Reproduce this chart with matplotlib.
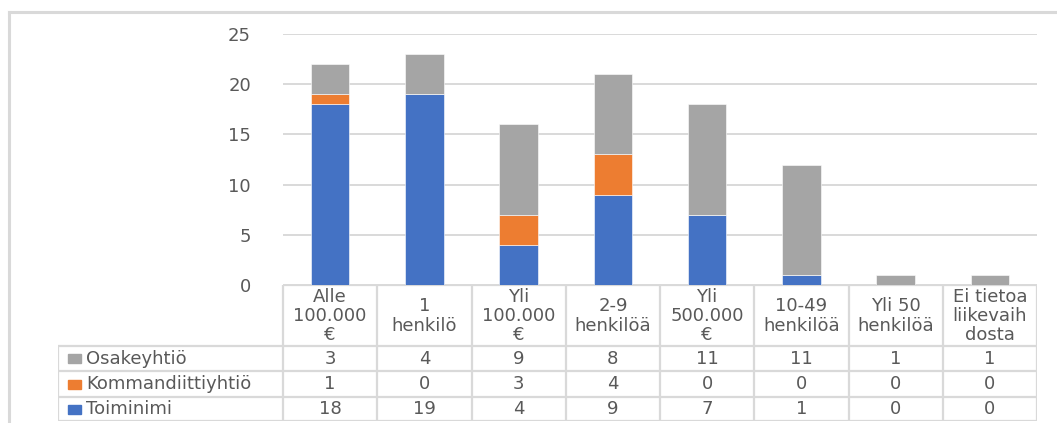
import matplotlib
matplotlib.use("Agg")
import matplotlib.pyplot as plt
from matplotlib.lines import Line2D
from matplotlib.patches import Rectangle
import numpy as np

categories = ["Alle\n100.000\n€", "1\nhenkilö", "Yli\n100.000\n€", "2-9\nhenkilöä",
              "Yli\n500.000\n€", "10-49\nhenkilöä", "Yli 50\nhenkilöä", "Ei tietoa\nliikevaih\ndosta"]
toiminimi = [18, 19, 4, 9, 7, 1, 0, 0]
kommandiitti = [1, 0, 3, 4, 0, 0, 0, 0]
osakeyhtio = [3, 4, 9, 8, 11, 11, 1, 1]
series_names = ["Toiminimi", "Kommandiittiyhtiö", "Osakeyhtiö"]
colors = ["#4472C4", "#ED7D31", "#A5A5A5"]
yticks = [0, 5, 10, 15, 20, 25]

W, H = 1057, 423
grid_c = "#D9D9D9"
text_c = "#595959"
fs = 13

plt.rcParams["font.family"] = ["DejaVu Sans"]
fig = plt.figure(figsize=(W / 100, H / 100), dpi=100)

# plot area in pixels
px_l, px_r, px_top, px_bot = 283, 1037, 34, 285
ax = fig.add_axes([px_l / W, 1 - px_bot / H, (px_r - px_l) / W, (px_bot - px_top) / H])
x = np.arange(len(categories))
series = [toiminimi, kommandiitti, osakeyhtio]
bottom = np.zeros(len(x))
for vals, c in zip(series, colors):
    ax.bar(x, vals, width=0.41, bottom=bottom, color=c, edgecolor="white", linewidth=0.4, zorder=3)
    bottom += np.array(vals)
ax.set_xlim(-0.5, len(x) - 0.5)
ax.set_ylim(0, 25)
ax.set_yticks(yticks)
ax.set_xticks([])
ax.tick_params(axis="y", length=0, pad=23, labelsize=fs, labelcolor=text_c)
ax.yaxis.grid(True, color=grid_c, linewidth=1.4, zorder=0)
for s in ax.spines.values():
    s.set_visible(False)

# data table below
colw = (px_r - px_l) / len(x)
tb_l, tb_top, tb_bot = 58, 285, 421
tax = fig.add_axes([tb_l / W, 1 - tb_bot / H, (px_r - tb_l) / W, (tb_bot - tb_top) / H])
x0 = -0.5 - (px_l - tb_l) / colw
tax.set_xlim(x0, len(x) - 0.5)
tax.set_ylim(tb_bot - tb_top, 0)
tax.axis("off")
row_y = [0, 61, 86, 112, 136]
lk = dict(color=grid_c, linewidth=1.6, solid_capstyle="butt")
tax.plot([-0.5, len(x) - 0.5], [0, 0], **lk)
for yy in row_y[1:]:
    tax.plot([x0, len(x) - 0.5], [yy, yy], **lk)
for b in np.arange(len(x) + 1) - 0.5:
    tax.plot([b, b], [0, row_y[-1]], **lk)
tax.plot([x0, x0], [row_y[1], row_y[-1]], **lk)

for i, lab in enumerate(categories):
    tax.text(i, row_y[1] / 2 + 0.5, lab, ha="center", va="center", fontsize=fs, color=text_c,
             linespacing=1.08)

rows = list(zip(series_names, series, colors))[::-1]
for r, (name, vals, c) in enumerate(rows):
    yc = (row_y[r + 1] + row_y[r + 2]) / 2
    tax.add_patch(Rectangle((x0 + 10 / colw, yc - 4.5), 13 / colw, 9, color=c, clip_on=False))
    tax.text(x0 + 28 / colw, yc, name, ha="left", va="center", fontsize=fs, color=text_c)
    for i, v in enumerate(vals):
        tax.text(i, yc, str(v), ha="center", va="center", fontsize=fs, color=text_c)

# outer frame (top and left only visible)
fig.add_artist(Line2D([9 / W, 9 / W], [0, 1 - 12 / H], color=grid_c, linewidth=2.2,
                      transform=fig.transFigure))
fig.add_artist(Line2D([9 / W, 1056 / W], [1 - 12 / H, 1 - 12 / H], color=grid_c, linewidth=2.2,
                      transform=fig.transFigure))

fig.savefig("out.png", dpi=100)
